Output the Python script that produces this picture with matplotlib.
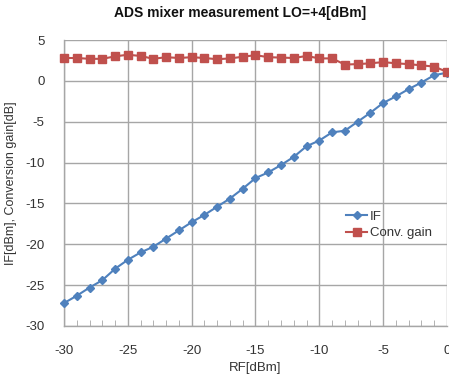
import matplotlib
matplotlib.use("Agg")
import matplotlib.pyplot as plt
from matplotlib.ticker import MultipleLocator

# Data
rf = [-30, -29, -28, -27, -26, -25, -24, -23, -22, -21, -20, -19, -18, -17, -16,
      -15, -14, -13, -12, -11, -10, -9, -8, -7, -6, -5, -4, -3, -2, -1, 0]
if_dbm = [-27.2, -26.3, -25.3, -24.4, -23.0, -21.9, -21.0, -20.3, -19.3, -18.3,
          -17.3, -16.4, -15.4, -14.4, -13.2, -11.9, -11.2, -10.3, -9.3, -8.0,
          -7.3, -6.3, -6.1, -5.0, -3.9, -2.7, -1.9, -1.0, -0.2, 0.7, 1.0]
conv_gain = [2.8, 2.8, 2.7, 2.7, 3.0, 3.2, 3.05, 2.7, 2.9, 2.8, 2.9, 2.8, 2.65,
             2.75, 2.95, 3.15, 2.9, 2.85, 2.8, 3.05, 2.75, 2.75, 2.0, 2.05, 2.15,
             2.3, 2.15, 2.05, 1.9, 1.75, 1.1]

plt.rcParams['font.family'] = ['Liberation Sans', 'DejaVu Sans']
plt.rcParams['axes.unicode_minus'] = False

fig = plt.figure(figsize=(4.49, 3.78), dpi=100)
ax = fig.add_axes([0.1425, 0.1376, 0.853, 0.7565])

ax.plot(rf, if_dbm, color='#4F81BD', marker='D', markersize=4, linewidth=1.5,
        label='IF', clip_on=False, zorder=3)
ax.plot(rf, conv_gain, color='#C0504D', marker='s', markersize=6, linewidth=1.5,
        label='Conv. gain', clip_on=False, zorder=3)

ax.set_xlim(-30, 0)
ax.set_ylim(-30, 5)
ax.xaxis.set_major_locator(MultipleLocator(5))
ax.xaxis.set_minor_locator(MultipleLocator(1))
ax.yaxis.set_major_locator(MultipleLocator(5))
ax.grid(True, which='major', color='#a6a6a6', linewidth=1)
ax.set_axisbelow(True)

for side in ['top', 'right']:
    ax.spines[side].set_visible(False)
for side in ['left', 'bottom']:
    ax.spines[side].set_color('#a6a6a6')
    ax.spines[side].set_linewidth(1)

ax.tick_params(axis='x', which='major', direction='in', length=0, pad=14,
               labelsize=9.5, colors='#a6a6a6', labelcolor='#333333')
ax.tick_params(axis='x', which='minor', direction='in', length=4,
               colors='#a6a6a6')
ax.tick_params(axis='y', which='major', length=0, pad=14, labelsize=9.5,
               labelcolor='#333333')

ax.set_xlabel('RF[dBm]', fontsize=9.5, color='#333333', labelpad=3)
ax.set_ylabel('IF[dBm], Conversion gain[dB]', fontsize=9, color='#333333',
              labelpad=6)
fig.suptitle('ADS mixer measurement LO=+4[dBm]', fontsize=10,
             fontweight='bold', x=0.535, y=0.985, color='#111111')

ax.legend(loc='center left', bbox_to_anchor=(0.745, 0.405),
          bbox_transform=fig.transFigure, frameon=False, fontsize=9.5,
          handlelength=1.6, handletextpad=0.2, labelspacing=0.3,
          labelcolor='#333333')

fig.savefig('out.png', dpi=100)
